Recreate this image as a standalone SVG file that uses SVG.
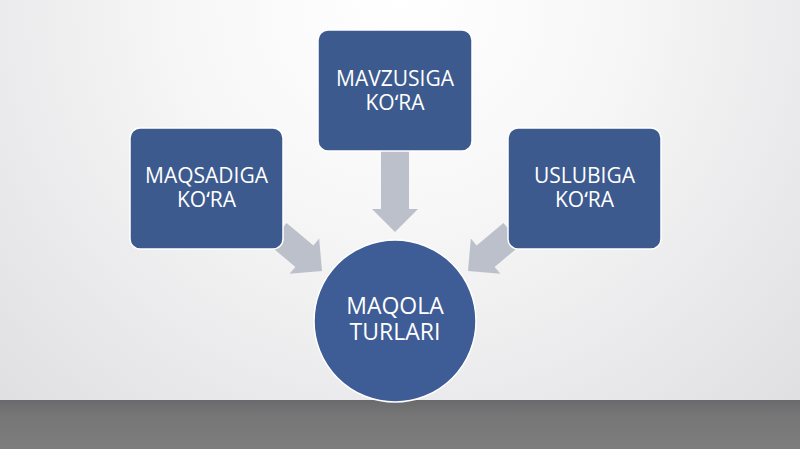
<svg xmlns="http://www.w3.org/2000/svg" width="800" height="449" viewBox="0 0 800 449">
  <defs>
    <radialGradient id="bg" cx="400" cy="0" r="620" gradientUnits="userSpaceOnUse">
      <stop offset="0" stop-color="#ffffff"/>
      <stop offset="0.35" stop-color="#f7f7f7"/>
      <stop offset="1" stop-color="#dcdbdf"/>
    </radialGradient>
    <linearGradient id="floor" x1="0" y1="400" x2="0" y2="449" gradientUnits="userSpaceOnUse">
      <stop offset="0" stop-color="#6a696b"/>
      <stop offset="0.3" stop-color="#777677"/>
      <stop offset="1" stop-color="#7e7d7d"/>
    </linearGradient>
    <style>
      .box { fill: #3c5a8e; stroke: #ffffff; stroke-width: 1.5; }
      .circ { fill: #3e5c95; stroke: #ffffff; stroke-width: 1.5; }
      .arrow { fill: #bcc0ca; }
      .lbl { font-family: "Open Sans", "Noto Sans", "Liberation Sans", sans-serif; fill: #ffffff; text-anchor: middle; font-size: 21px; }
      .big { font-size: 23px; }
    </style>
  </defs>
  <rect x="0" y="0" width="800" height="400" fill="url(#bg)"/>
  <rect x="0" y="400" width="800" height="49" fill="url(#floor)"/>

  <g id="connectors">
    <polygon class="arrow" points="381,150 409,150 409,209 418,209 395,232 372,209 381,209"/>
    <polygon class="arrow" transform="translate(322,271) rotate(40)" points="-58,-14 -23,-14 -23,-23 0,0 -23,23 -23,14 -58,14"/>
    <polygon class="arrow" transform="translate(468,271) rotate(140)" points="-58,-14 -23,-14 -23,-23 0,0 -23,23 -23,14 -58,14"/>
  </g>

  <g id="node-maqsadiga">
    <rect class="box" x="130" y="128" width="153" height="121" rx="10"/>
    <text class="lbl" x="206.5" y="183">MAQSADIGA<tspan x="206.5" dy="24">KOʻRA</tspan></text>
  </g>
  <g id="node-mavzusiga">
    <rect class="box" x="318" y="30" width="154" height="121" rx="10"/>
    <text class="lbl" x="395" y="86">MAVZUSIGA<tspan x="395" dy="24">KOʻRA</tspan></text>
  </g>
  <g id="node-uslubiga">
    <rect class="box" x="508" y="128" width="153" height="121" rx="10"/>
    <text class="lbl" x="584.5" y="183">USLUBIGA<tspan x="584.5" dy="24">KOʻRA</tspan></text>
  </g>
  <g id="node-maqola">
    <circle class="circ" cx="395" cy="321" r="81"/>
    <text class="lbl big" x="395" y="314">MAQOLA<tspan x="395" dy="26">TURLARI</tspan></text>
  </g>
</svg>
